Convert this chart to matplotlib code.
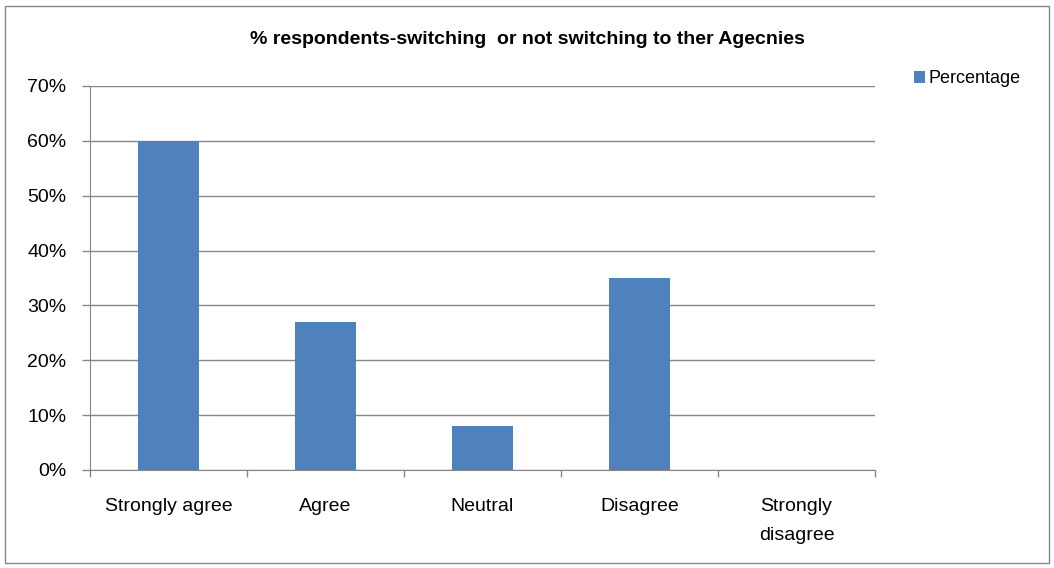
import matplotlib.pyplot as plt
from matplotlib.patches import Rectangle

categories = ["Strongly agree", "Agree", "Neutral", "Disagree", "Strongly\ndisagree"]
percentage = [60, 27, 8, 35, 0]
yticks = [0, 10, 20, 30, 40, 50, 60, 70]

bar_color = "#4f81bd"
grid_color = "#868686"

plt.rcParams['font.family'] = ['Liberation Sans', 'DejaVu Sans']

fig = plt.figure(figsize=(10.54, 5.68), dpi=100)
ax = fig.add_axes([90 / 1054, 1 - 470 / 568, 785 / 1054, 384 / 568])

x = list(range(len(categories)))
ax.bar(x, percentage, width=0.39, color=bar_color, label="Percentage", zorder=3)

ax.set_xlim(-0.5, len(categories) - 0.5)
ax.set_ylim(0, 70)
ax.set_yticks(yticks)
ax.set_yticklabels([f"{v}%" for v in yticks], fontsize=14)
ax.set_xticks(x)
ax.set_xticklabels(categories, fontsize=14, linespacing=1.95)
ax.set_xticks([i - 0.5 for i in range(len(categories) + 1)], minor=True)
ax.tick_params(axis='x', which='major', length=0, pad=20)
ax.tick_params(axis='x', which='minor', length=5, color=grid_color, width=1)
ax.tick_params(axis='y', length=6, color=grid_color, width=1, pad=11)

ax.yaxis.grid(True, color=grid_color, linewidth=1, zorder=0)
for s in ['top', 'right']:
    ax.spines[s].set_visible(False)
ax.spines['left'].set_color(grid_color)
ax.spines['bottom'].set_color(grid_color)

fig.text(527 / 1054, 1 - 40 / 568, "% respondents-switching  or not switching to ther Agecnies",
         ha='center', va='center', fontsize=14, fontweight='bold')

ax.legend(loc='upper left', bbox_to_anchor=(907 / 1054, 1 - 63 / 568),
          bbox_transform=fig.transFigure, frameon=False, fontsize=13,
          handlelength=0.6, handleheight=0.6, handletextpad=0.2, borderaxespad=0)

fig.patches.append(Rectangle((5 / 1054, 5 / 568), 1044 / 1054, 557 / 568,
                             transform=fig.transFigure, fill=False,
                             edgecolor=grid_color, linewidth=1))

fig.savefig("out.png", dpi=100)
